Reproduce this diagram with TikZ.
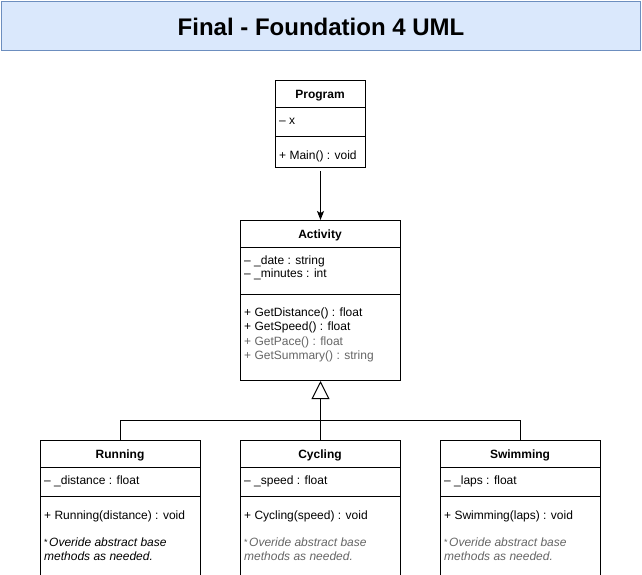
\documentclass[tikz,border=0pt]{standalone}
\usepackage{fontspec}
\setmainfont{Liberation Sans}
\usetikzlibrary{arrows.meta}
\definecolor{titlefill}{HTML}{DAE8FC}
\definecolor{titledraw}{HTML}{6C8EBF}
\definecolor{graytext}{HTML}{666666}
\newcommand{\notestar}{\raisebox{1.5pt}{\fontsize{9}{9}\selectfont *}\kern1.5pt}
\tikzset{
  classbox/.style={draw=black, line width=1pt, inner sep=0pt, anchor=north west, fill=white},
  ctitle/.style={font=\fontsize{12}{14}\selectfont\bfseries, inner sep=0pt},
  member/.style={font=\fontsize{12}{14}\selectfont, inner sep=0pt, anchor=west},
  note/.style={font=\fontsize{12}{14}\selectfont, inner sep=0pt, anchor=north west, align=left},
  sep/.style={line width=1pt, draw=black},
  conn/.style={line width=1pt, draw=black},
}
\begin{document}
\begin{tikzpicture}[x=1pt, y=-1pt]
\useasboundingbox (0,0) rectangle (642,574);
\clip (0,0) rectangle (642,574);
% title
\node[draw=titledraw, fill=titlefill, line width=1pt, minimum width=639pt, minimum height=49pt, inner sep=0pt, anchor=north west] (title) at (1,1) {};
\node[font=\fontsize{24}{28}\selectfont\bfseries, inner sep=0pt] (titletext) at ([yshift=-0.5pt]title.center) {Final - Foundation 4 UML};

% Program
\node[classbox, minimum width=90pt, minimum height=87pt] (prog) at (275,80) {};
\node[ctitle] (progname) at (320,95.5) {Program};
\draw[sep] ([yshift=-27pt]prog.north west) -- ([yshift=-27pt]prog.north east);
\node[member] (progattr) at (279,121.5) {– x};
\draw[sep] ([yshift=-56pt]prog.north west) -- ([yshift=-56pt]prog.north east);
\node[member] (progmeth) at (279,156) {+ Main() : void};

% Activity
\node[classbox, minimum width=160pt, minimum height=160pt] (act) at (240,220) {};
\node[ctitle] (actname) at (320,235.5) {Activity};
\draw[sep] ([yshift=-27pt]act.north west) -- ([yshift=-27pt]act.north east);
\node[member] (acta1) at (244,261) {– \_date : string};
\node[member] (acta2) at (244,274.5) {– \_minutes : int};
\draw[sep] ([yshift=-74pt]act.north west) -- ([yshift=-74pt]act.north east);
\node[member] (actm1) at (244,313) {+ GetDistance() : float};
\node[member] (actm2) at (244,327) {+ GetSpeed() : float};
\node[member, text=graytext] (actm3) at (244,342) {+ GetPace() : float};
\node[member, text=graytext] (actm4) at (244,356) {+ GetSummary() : string};

% Running
\node[classbox, minimum width=160pt, minimum height=150pt] (run) at (40,440) {};
\node[ctitle] (runname) at (120,455.5) {Running};
\draw[sep] ([yshift=-27pt]run.north west) -- ([yshift=-27pt]run.north east);
\node[member] (runa) at (44,481) {– \_distance : float};
\draw[sep] ([yshift=-56pt]run.north west) -- ([yshift=-56pt]run.north east);
\node[member] (runm) at (44,516) {+ Running(distance) : void};
\node[note] (runnote) at (44,538) {\notestar\textit{Overide abstract base}\\\textit{methods as needed.}};

% Cycling
\node[classbox, minimum width=160pt, minimum height=150pt] (cyc) at (240,440) {};
\node[ctitle] (cycname) at (320,455.5) {Cycling};
\draw[sep] ([yshift=-27pt]cyc.north west) -- ([yshift=-27pt]cyc.north east);
\node[member] (cyca) at (244,481) {– \_speed : float};
\draw[sep] ([yshift=-56pt]cyc.north west) -- ([yshift=-56pt]cyc.north east);
\node[member] (cycm) at (244,516) {+ Cycling(speed) : void};
\node[note, text=graytext] (cycnote) at (244,538) {\notestar\textit{Overide abstract base}\\\textit{methods as needed.}};

% Swimming
\node[classbox, minimum width=160pt, minimum height=150pt] (swim) at (440,440) {};
\node[ctitle] (swimname) at (520,455.5) {Swimming};
\draw[sep] ([yshift=-27pt]swim.north west) -- ([yshift=-27pt]swim.north east);
\node[member] (swima) at (444,481) {– \_laps : float};
\draw[sep] ([yshift=-56pt]swim.north west) -- ([yshift=-56pt]swim.north east);
\node[member] (swimm) at (444,516) {+ Swimming(laps) : void};
\node[note, text=graytext] (swimnote) at (444,538) {\notestar\textit{Overide abstract base}\\\textit{methods as needed.}};

% connectors
\draw[conn, -{Stealth[length=9pt, width=7pt, inset=2pt]}] ([yshift=-3pt]prog.south) -- (act.north);
\draw[conn] (run.north) -- ++(0,-20) -| (swim.north);
\draw[conn, -{Triangle[open, length=18pt, width=18pt, fill=white]}] (cyc.north) -- (act.south);
\end{tikzpicture}
\end{document}
